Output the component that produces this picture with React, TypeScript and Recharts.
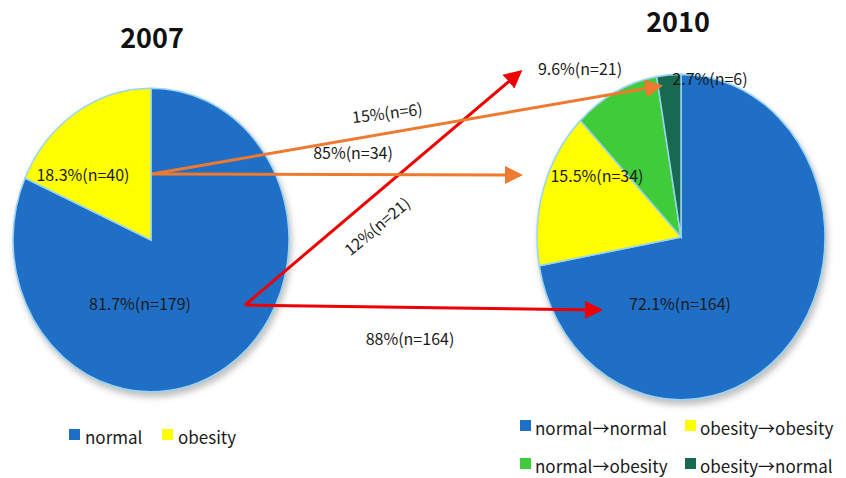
import { PieChart, Pie, Cell } from "recharts";

const years = ["2007", "2010"];

const cats2007 = ["normal", "obesity"];
const vals2007 = [81.7, 18.3];
const labels2007 = ["81.7%(n=179)", "18.3%(n=40)"];

const cats2010 = ["normal→normal", "obesity→obesity", "normal→obesity", "obesity→normal"];
const vals2010 = [72.1, 15.5, 9.6, 2.7];
const labels2010 = ["72.1%(n=164)", "15.5%(n=34)", "9.6%(n=21)", "2.7%(n=6)"];

const flowLabels = ["15%(n=6)", "85%(n=34)", "12%(n=21)", "88%(n=164)"];

const COLORS2007 = ["#1f6fc6", "#ffff00"];
const COLORS2010 = ["#1f6fc6", "#ffff00", "#3fcb3a", "#17694f"];

const FONT = "'Noto Sans CJK KR', 'Open Sans', sans-serif";

const data2007 = cats2007.map((name, i) => ({ name, value: vals2007[i] }));
const data2010 = cats2010.map((name, i) => ({ name, value: vals2010[i] }));

function EllipsePie({ data, colors, left, top, r, sy }: any) {
  return (
    <div style={{ position: "absolute", left, top, width: 300, height: 300, transform: `scaleY(${sy})`, transformOrigin: "center", filter: "drop-shadow(2px 4px 3px rgba(0,0,0,0.25))" }}>
      <PieChart width={300} height={300} margin={{ top: 0, right: 0, bottom: 0, left: 0 }}>
        <Pie data={data} dataKey="value" nameKey="name" cx={150} cy={150} outerRadius={r} startAngle={90} endAngle={-270} stroke="#9ad4f2" strokeWidth={1.5} isAnimationActive={false}>
          {data.map((d: any, i: number) => <Cell key={d.name} fill={colors[i]} />)}
        </Pie>
      </PieChart>
    </div>
  );
}

const txt = { fontFamily: FONT, fontSize: 16, fill: "#1a1a1a" } as const;
const legTxt = { fontFamily: FONT, fontSize: 17, fill: "#1a1a1a" } as const;

export default function App() {
  return (
    <div style={{ position: "absolute", left: 0, top: 0, width: 846, height: 478, background: "#fff", overflow: "hidden" }}>
      <EllipsePie data={data2007} colors={COLORS2007} left={1} top={90} r={138} sy={1.1} />
      <EllipsePie data={data2010} colors={COLORS2010} left={531} top={87} r={144} sy={1.13} />
      <svg width={846} height={478} style={{ position: "absolute", left: 0, top: 0 }}>
        <defs>
          <marker id="ar" markerWidth="6" markerHeight="6" refX="5" refY="3" orient="auto" markerUnits="strokeWidth">
            <path d="M0,0 L6,3 L0,6 Z" fill="#ee0000" />
          </marker>
          <marker id="ao" markerWidth="6" markerHeight="6" refX="5" refY="3" orient="auto" markerUnits="strokeWidth">
            <path d="M0,0 L6,3 L0,6 Z" fill="#ee7a30" />
          </marker>
        </defs>
        <text x={152} y={48} textAnchor="middle" style={{ fontFamily: FONT, fontSize: 27, fontWeight: 700, fill: "#111" }}>{years[0]}</text>
        <text x={678} y={32} textAnchor="middle" style={{ fontFamily: FONT, fontSize: 27, fontWeight: 700, fill: "#111" }}>{years[1]}</text>

        <line x1={245} y1={305} x2={600} y2={310} stroke="#ee0000" strokeWidth={3} markerEnd="url(#ar)" />
        <line x1={245} y1={305} x2={520} y2={72} stroke="#ee0000" strokeWidth={3} markerEnd="url(#ar)" />
        <line x1={152} y1={174} x2={660} y2={86} stroke="#ee7a30" strokeWidth={3} markerEnd="url(#ao)" />
        <line x1={152} y1={174} x2={520} y2={175} stroke="#ee7a30" strokeWidth={3} markerEnd="url(#ao)" />

        <text x={83} y={181} textAnchor="middle" style={txt}>{labels2007[1]}</text>
        <text x={140} y={310} textAnchor="middle" style={txt}>{labels2007[0]}</text>
        <text x={0} y={0} textAnchor="middle" style={txt} transform="translate(388,119) rotate(-7)">{flowLabels[0]}</text>
        <text x={353} y={159} textAnchor="middle" style={txt}>{flowLabels[1]}</text>
        <text x={0} y={0} textAnchor="middle" style={txt} transform="translate(381,231) rotate(-40)">{flowLabels[2]}</text>
        <text x={410} y={345} textAnchor="middle" style={txt}>{flowLabels[3]}</text>
        <text x={580} y={75} textAnchor="middle" style={txt}>{labels2010[2]}</text>
        <text x={710} y={85} textAnchor="middle" style={txt}>{labels2010[3]}</text>
        <text x={597} y={182} textAnchor="middle" style={txt}>{labels2010[1]}</text>
        <text x={680} y={310} textAnchor="middle" style={txt}>{labels2010[0]}</text>

        <rect x={69} y={429} width={11} height={11} fill={COLORS2007[0]} />
        <text x={85} y={444} style={legTxt}>{cats2007[0]}</text>
        <rect x={162} y={429} width={11} height={11} fill={COLORS2007[1]} />
        <text x={178} y={444} style={legTxt}>{cats2007[1]}</text>

        {cats2010.map((c, i) => {
          const x = i % 2 === 0 ? 520 : 685;
          const y = i < 2 ? 420 : 458;
          return (
            <g key={c}>
              <rect x={x} y={y} width={11} height={11} fill={COLORS2010[i]} />
              <text x={x + 15} y={y + 15} style={legTxt}>{c}</text>
            </g>
          );
        })}
      </svg>
    </div>
  );
}
